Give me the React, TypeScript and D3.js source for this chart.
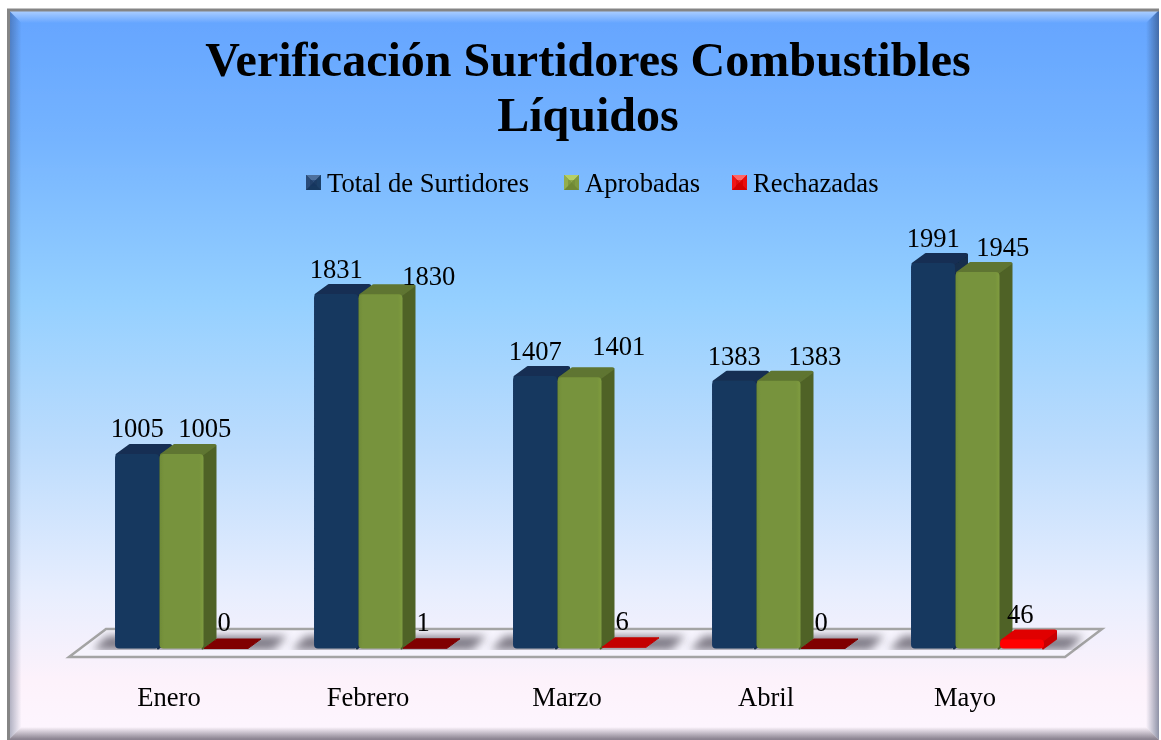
import React from "react";
import * as d3 from "d3";

const categories = ["Enero", "Febrero", "Marzo", "Abril", "Mayo"];
const seriesNames = ["Total de Surtidores", "Aprobadas", "Rechazadas"];
const total = [1005, 1831, 1407, 1383, 1991];
const aprobadas = [1005, 1830, 1401, 1383, 1945];
const rechazadas = [0, 1, 6, 0, 46];
const titleLines = ["Verificación Surtidores Combustibles", "Líquidos"];

// label nudges relative to each bar's default anchor: [dx, dy]
const totalNudge = [[0, -2], [0, -1], [0, -1], [0, -1], [0, -1]];
const aprobadasNudge = [[23, -2], [48, 6], [39, -7], [36, -1], [25, -1]];
const rechazadasNudge = [[-2, 0], [-2, 0], [-2, 0], [-2, 0], [-2, 0]];

const W = 1161, H = 740;
const DX = 13, DY = 9.5;
const FONT = "'Liberation Serif', 'Times New Roman', serif";

const x = d3.scaleBand<string>().domain(categories).range([115, 115 + 5 * 199]).paddingInner(0).paddingOuter(0);
const sx = d3.scaleBand<string>().domain(seriesNames).range([0, 133.5]);
const y = d3.scaleLinear().domain([0, 1991]).range([648.5, 263]);

const seriesStyles = [
  { front: "url(#navyF)", side: "#132d4e", top: "#142f52", values: total, nudges: totalNudge },
  { front: "url(#greenF)", side: "#4f6228", top: "#5f7530", values: aprobadas, nudges: aprobadasNudge },
  { front: "#ff0000", side: "#c80000", top: "#dc0000", values: rechazadas, nudges: rechazadasNudge },
];
const swatchColors = [
  ["#4d709d", "#2b4c78", "#1e3f69", "#17375e"],
  ["#b6cf66", "#93ad4c", "#7f9a40", "#6f8836"],
  ["#ff6666", "#f01414", "#e80a0a", "#d00000"],
];

const poly = d3.line<[number, number]>();

function Bar({ x0, w, v, s }: any) {
  const yt = y(v), yb = y(0);
  const h = yb - yt;
  const isRed = s === 2;
  const topFill = isRed ? (v <= 1 ? "#800000" : v <= 10 ? "#c40000" : "#e00000") : seriesStyles[s].top;
  const r = h > 4 ? 4 : 1;
  const tall = h > 4;
  return (
    <g>
      {tall && <path d={poly([[x0 + w - 1, yb], [x0 + w + DX - 1, yb - DY], [x0 + w + DX - 1, yt - DY + 1], [x0 + w - 1, yt + 1]])! + "Z"} fill={seriesStyles[s].side} stroke={seriesStyles[s].side} strokeWidth={2} strokeLinejoin="round" />}
      <path d={poly(tall
        ? [[x0 + 2, yt + 1], [x0 + DX + 2, yt - DY + 1], [x0 + w + DX - 2, yt - DY + 1], [x0 + w - 2, yt + 1]]
        : [[x0, yt], [x0 + DX, yt - DY], [x0 + w + DX, yt - DY], [x0 + w, yt]])! + "Z"}
        fill={topFill} stroke={topFill} strokeWidth={tall ? 3 : 1} strokeLinejoin="round" />
      {tall && <rect x={x0} y={yt} width={w} height={h} rx={r} fill={seriesStyles[s].front} />}
    </g>
  );
}

function Swatch({ px, py, size, colors }: any) {
  const c: [number, number] = [px + size / 2, py + size / 2];
  const tl: [number, number] = [px, py], tr: [number, number] = [px + size, py];
  const bl: [number, number] = [px, py + size], br: [number, number] = [px + size, py + size];
  const inset = 4;
  return (
    <g>
      <rect x={px} y={py} width={size} height={size} fill={colors[3]} />
      <path d={poly([tl, tr, c])! + "Z"} fill={colors[0]} />
      <path d={poly([tl, bl, c])! + "Z"} fill={colors[1]} />
      <path d={poly([tr, br, c])! + "Z"} fill={colors[2]} />
      <rect x={px + inset} y={py + inset + 1} width={size - 2 * inset} height={size - 2 * inset - 1} fill={colors[3]} opacity={0.55} />
    </g>
  );
}

export default function App() {
  const w = sx.bandwidth();
  const floor = poly([[69, 657], [1065, 657], [1102, 629], [106, 629]])! + "Z";
  const legendX = [306, 564, 732];
  const L = 8.5, T = 10, R = 1159, B = 740, BV = 13;
  return (
    <svg width={W} height={H} viewBox={`0 0 ${W} ${H}`} style={{ position: "absolute", left: 0, top: 0, display: "block" }} fontFamily={FONT}>
      <defs>
        <linearGradient id="bg" x1="0" y1="0" x2="0" y2="1">
          <stop offset="0" stopColor="#64a4ff" />
          <stop offset="0.17" stopColor="#74b3ff" />
          <stop offset="0.4" stopColor="#95d0ff" />
          <stop offset="0.6" stopColor="#bcdcfd" />
          <stop offset="0.8" stopColor="#e8eefe" />
          <stop offset="0.92" stopColor="#fdf2fb" />
          <stop offset="1" stopColor="#fdf6ff" />
        </linearGradient>
        <linearGradient id="bevelL" gradientUnits="userSpaceOnUse" x1={L} y1="0" x2={L + BV} y2="0">
          <stop offset="0" stopColor="#203050" stopOpacity="0.38" />
          <stop offset="1" stopColor="#203050" stopOpacity="0" />
        </linearGradient>
        <linearGradient id="bevelR" gradientUnits="userSpaceOnUse" x1={R} y1="0" x2={R - BV} y2="0">
          <stop offset="0" stopColor="#203050" stopOpacity="0.5" />
          <stop offset="1" stopColor="#203050" stopOpacity="0" />
        </linearGradient>
        <linearGradient id="bevelT" gradientUnits="userSpaceOnUse" x1="0" y1={T} x2="0" y2={T + BV}>
          <stop offset="0" stopColor="#fff" stopOpacity="0.5" />
          <stop offset="1" stopColor="#fff" stopOpacity="0" />
        </linearGradient>
        <linearGradient id="bevelB" gradientUnits="userSpaceOnUse" x1="0" y1={B - 1} x2="0" y2={B - BV}>
          <stop offset="0" stopColor="#403848" stopOpacity="0.6" />
          <stop offset="1" stopColor="#403848" stopOpacity="0" />
        </linearGradient>
        <linearGradient id="navyF" x1="0" y1="0" x2="1" y2="0">
          <stop offset="0" stopColor="#1a3a63" />
          <stop offset="0.1" stopColor="#17375e" />
          <stop offset="1" stopColor="#17375e" />
        </linearGradient>
        <linearGradient id="greenF" x1="0" y1="0" x2="1" y2="0">
          <stop offset="0" stopColor="#6f8b38" />
          <stop offset="0.1" stopColor="#77933c" />
          <stop offset="0.9" stopColor="#77933c" />
          <stop offset="1" stopColor="#7f9c40" />
        </linearGradient>
        <filter id="soft" x="-20%" y="-40%" width="140%" height="180%"><feGaussianBlur stdDeviation="4" /></filter>
        <filter id="aa" x="0" y="0" width="100%" height="100%"><feGaussianBlur stdDeviation="0.4" /></filter>
        <clipPath id="shadowClip"><rect x={60} y={631} width={1050} height={19} /></clipPath>
      </defs>
      <g filter="url(#aa)">
        <rect x={0} y={0} width={W} height={H} fill="#fff" />
        <rect x={L} y={T} width={R - L} height={B - T} fill="url(#bg)" />
        <path d={poly([[L, T], [L + BV, T + BV], [L + BV, B - BV], [L, B]])! + "Z"} fill="url(#bevelL)" />
        <path d={poly([[R, T], [R - BV, T + BV], [R - BV, B - BV], [R, B]])! + "Z"} fill="url(#bevelR)" />
        <path d={poly([[L, T], [R, T], [R - BV, T + BV], [L + BV, T + BV]])! + "Z"} fill="url(#bevelT)" />
        <path d={poly([[L, B], [R, B], [R - BV, B - BV], [L + BV, B - BV]])! + "Z"} fill="url(#bevelB)" />
        <path d={poly([[L, B], [L, T], [R, T]])!} fill="none" stroke="#858585" strokeWidth={3} />

        <g fontWeight="bold" fontSize={48} textAnchor="middle" fill="#000">
          {titleLines.map((t, i) => <text key={t} x={588} y={76 + i * 55}>{t}</text>)}
        </g>

        {seriesNames.map((n, i) => (
          <g key={n}>
            <Swatch px={legendX[i]} py={175} size={15} colors={swatchColors[i]} />
            <text x={legendX[i] + 21} y={192} fontSize={26.6} fill="#000">{n}</text>
          </g>
        ))}

        <path d={floor} fill="#f6f4fd" stroke="#a4a4a4" strokeWidth={2.5} strokeLinejoin="miter" />
        <g clipPath="url(#shadowClip)">
          {categories.map(c => (
            <path key={c} d={poly([[x(c)! - 22, 650], [x(c)! + 158, 650], [x(c)! + 172, 636], [x(c)! - 8, 636]])! + "Z"} fill="#6a6672" opacity={0.85} filter="url(#soft)" />
          ))}
        </g>

        {categories.map((c, ci) => (
          <g key={c}>
            {seriesStyles.map((s, si) => (
              <Bar key={si} x0={x(c)! + sx(seriesNames[si])!} w={w - 0.5} v={s.values[ci]} s={si} />
            ))}
          </g>
        ))}

        {categories.map((c, ci) => (
          <g key={c} fontSize={26.6} textAnchor="middle" fill="#000">
            {seriesStyles.map((s, si) => (
              <text key={si}
                x={x(c)! + sx(seriesNames[si])! + w / 2 + s.nudges[ci][0]}
                y={(si === 2 ? Math.min(y(s.values[ci]) - 17, 631) : y(s.values[ci]) - 15) + s.nudges[ci][1]}>
                {s.values[ci]}
              </text>
            ))}
            <text x={x(c)! + 54} y={706}>{c}</text>
          </g>
        ))}
      </g>
    </svg>
  );
}
